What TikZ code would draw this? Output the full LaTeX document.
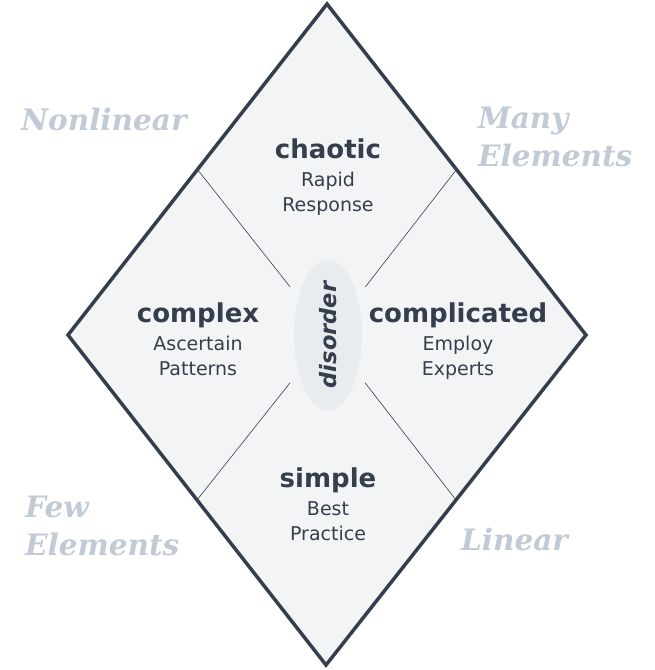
\documentclass[tikz,border=0pt]{standalone}
\usepackage{fontspec}
\setmainfont{DejaVu Sans}
\newfontfamily\cornerfont{DejaVu Serif}
\usetikzlibrary{positioning, calc, shapes.geometric}
\definecolor{slate}{HTML}{353E4C}
\definecolor{paper}{HTML}{F3F4F6}
\definecolor{haze}{HTML}{E9ECEF}
\definecolor{mist}{HTML}{C1CAD5}

\begin{document}
\begin{tikzpicture}[
  x=1pt, y=-1pt,
  title/.style={font=\fontsize{26}{30}\selectfont\bfseries, text=slate, inner sep=0pt, text depth=0pt, anchor=base},
  sub/.style={font=\fontsize{19}{25}\selectfont, text=slate, align=center, inner sep=0pt},
  corner/.style={font=\cornerfont\fontsize{29.5}{38}\selectfont\bfseries\itshape, text=mist, align=left, inner sep=0pt, anchor=base west},
  divider/.style={draw=slate, line width=0.6pt}
]
  \useasboundingbox (0,0) rectangle (654,670);

  % the diamond
  \coordinate (top)    at (327,4);
  \coordinate (right)  at (586,335);
  \coordinate (bottom) at (326,665);
  \coordinate (left)   at (68,335);
  \coordinate (c)      at (328,335);
  \draw[slate, line width=3.5pt, fill=paper] (top) -- (right) -- (bottom) -- (left) -- cycle;

  % dividers
  \coordinate (nw) at ($(top)!0.5!(left)$);
  \coordinate (ne) at ($(top)!0.5!(right)$);
  \coordinate (sw) at ($(bottom)!0.5!(left)$);
  \coordinate (se) at ($(bottom)!0.5!(right)$);
  \foreach \m in {nw, ne, sw, se}
    \draw[divider] (\m) -- ($(\m)!0.71!(c)$);

  \node[ellipse, fill=haze, minimum width=128pt, minimum height=68pt, inner sep=0pt, rotate=90] (disorder) at (c)
    {\fontsize{22.5}{26}\selectfont\bfseries\itshape\color{slate}disorder};

  % domains
  \node[title] (chaotic) at (328,158) {chaotic};
  \node[sub, below=14pt of chaotic] (chaoticsub) {Rapid\\Response};

  \node[title] (complex) at (198,322) {complex};
  \node[sub, below=14pt of complex] (complexsub) {Ascertain\\Patterns};

  \node[title] (complicated) at (458,322) {complicated};
  \node[sub, below=14pt of complicated] (complicatedsub) {Employ\\Experts};

  \node[title] (simple) at (328,487) {simple};
  \node[sub, below=14pt of simple] (simplesub) {Best\\Practice};

  % corner labels
  \node[corner] (nonlinear) at (21,130) {Nonlinear};
  \node[corner] (many) at (478,166) {Many\\Elements};
  \node[corner] (few) at (25,555) {Few\\Elements};
  \node[corner] (linear) at (461,550) {Linear};
\end{tikzpicture}
\end{document}
